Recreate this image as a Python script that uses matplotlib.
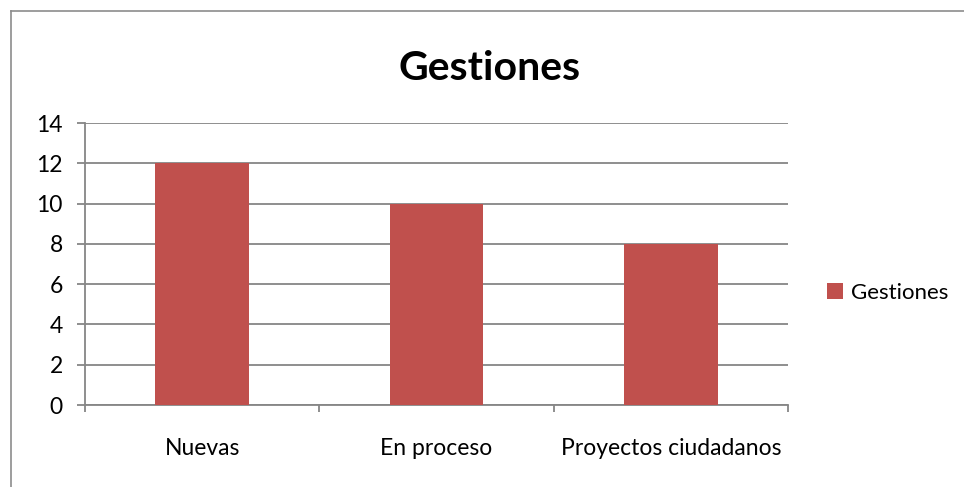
import matplotlib
matplotlib.use("Agg")
import matplotlib.pyplot as plt
from matplotlib.lines import Line2D
from matplotlib.patches import Patch

categories = ["Nuevas", "En proceso", "Proyectos ciudadanos"]
values = [12, 10, 8]
series_name = "Gestiones"
yticks = [0, 2, 4, 6, 8, 10, 12, 14]

plt.rcParams['font.family'] = ['Lato', 'DejaVu Sans']

W, H = 964, 487
fig = plt.figure(figsize=(W/100, H/100), dpi=100)
ax = fig.add_axes([85/W, 1-405/H, (788-85)/W, (405-123)/H])

bar_color = "#C0504D"
grid_color = "#868686"
x = list(range(len(categories)))
ax.bar(x, values, width=0.4, color=bar_color, zorder=3)

ax.set_xlim(-0.5, len(categories) - 0.5)
ax.set_ylim(0, 14)
ax.set_yticks(yticks)
ax.set_yticklabels([str(v) for v in yticks], fontsize=16.5)
ax.yaxis.grid(True, color=grid_color, linewidth=1.3, zorder=0)
ax.set_axisbelow(True)

for s in ["top", "right"]:
    ax.spines[s].set_visible(False)
for s in ["left", "bottom"]:
    ax.spines[s].set_color(grid_color)
    ax.spines[s].set_linewidth(1.3)

ax.tick_params(axis='y', length=6, width=1.3, color=grid_color, pad=10)
ax.set_xticks([i - 0.5 for i in range(len(categories) + 1)])
ax.set_xticklabels([])
ax.tick_params(axis='x', which='major', length=5, width=1.3, color=grid_color)
ax.set_xticks(x, minor=True)
ax.set_xticklabels(categories, minor=True, fontsize=16.5)
ax.tick_params(axis='x', which='minor', length=0, pad=24)

fig.text(490/W, 1-68/H, "Gestiones", ha='center', va='center',
         fontsize=29.5, fontweight='bold')

handle = Patch(facecolor=bar_color, edgecolor='none')
fig.legend([handle], [series_name], loc='center left',
           bbox_to_anchor=(807/W, 1-293/H), frameon=False, fontsize=16,
           handlelength=0.7, handleheight=0.7, handletextpad=0.4)

# outer chart border (left and top edges visible)
fig.add_artist(Line2D([10.5/W, 10.5/W], [0, 1-11/H], color="#8c8c8c", linewidth=1.2))
fig.add_artist(Line2D([10.5/W, 1], [1-11/H, 1-11/H], color="#8c8c8c", linewidth=1.2))

fig.savefig("out.png", dpi=100)
